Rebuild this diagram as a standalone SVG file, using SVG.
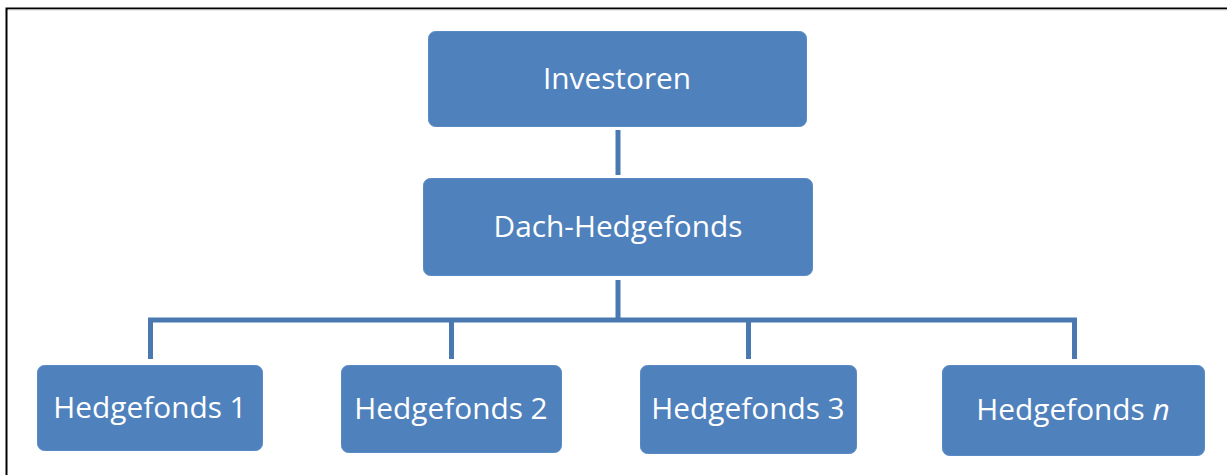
<svg xmlns="http://www.w3.org/2000/svg" width="1227" height="475" viewBox="0 0 1227 475">
  <style>
    .box { fill: #4F81BD; stroke: #5A8AC4; stroke-width: 1; }
    .label { font-family: "Open Sans", "Noto Sans", sans-serif; font-size: 29.8px; fill: #FFFFFF; text-anchor: middle; }
    .wire { fill: none; stroke: #4A78B0; stroke-width: 5; }
  </style>
  <rect width="1227" height="475" fill="#FFFFFF"/>
  <!-- frame -->
  <path d="M6.5 475 V8.5 H1227" fill="none" stroke="#000000" stroke-width="2"/>
  <line x1="8" y1="10" x2="1227" y2="10" stroke="#D8D8D8" stroke-width="1"/>

  <g id="connectors">
    <line class="wire" x1="618" y1="130" x2="618" y2="175"/>
    <line class="wire" x1="618" y1="280" x2="618" y2="320"/>
    <path class="wire" d="M150.5 359 V320 H1074.5 V359"/>
    <line class="wire" x1="451.5" y1="320" x2="451.5" y2="359"/>
    <line class="wire" x1="748.5" y1="320" x2="748.5" y2="359"/>
  </g>

  <g id="investoren">
    <rect class="box" x="428.5" y="31.5" width="378" height="95" rx="7"/>
    <text class="label" x="617" y="89">Investoren</text>
  </g>
  <g id="dach-hedgefonds">
    <rect class="box" x="423.5" y="178.5" width="389" height="97" rx="7"/>
    <text class="label" x="618" y="237">Dach-Hedgefonds</text>
  </g>
  <g id="hedgefonds-1">
    <rect class="box" x="37.5" y="365.5" width="225" height="85" rx="7"/>
    <text class="label" x="150" y="418">Hedgefonds 1</text>
  </g>
  <g id="hedgefonds-2">
    <rect class="box" x="341.5" y="365.5" width="220" height="87" rx="7"/>
    <text class="label" x="451" y="419">Hedgefonds 2</text>
  </g>
  <g id="hedgefonds-3">
    <rect class="box" x="640.5" y="365.5" width="216" height="88" rx="7"/>
    <text class="label" x="748" y="419">Hedgefonds 3</text>
  </g>
  <g id="hedgefonds-n">
    <rect class="box" x="942.5" y="365.5" width="262" height="90" rx="7"/>
    <text class="label" x="1073" y="420">Hedgefonds <tspan font-style="italic">n</tspan></text>
  </g>
</svg>
